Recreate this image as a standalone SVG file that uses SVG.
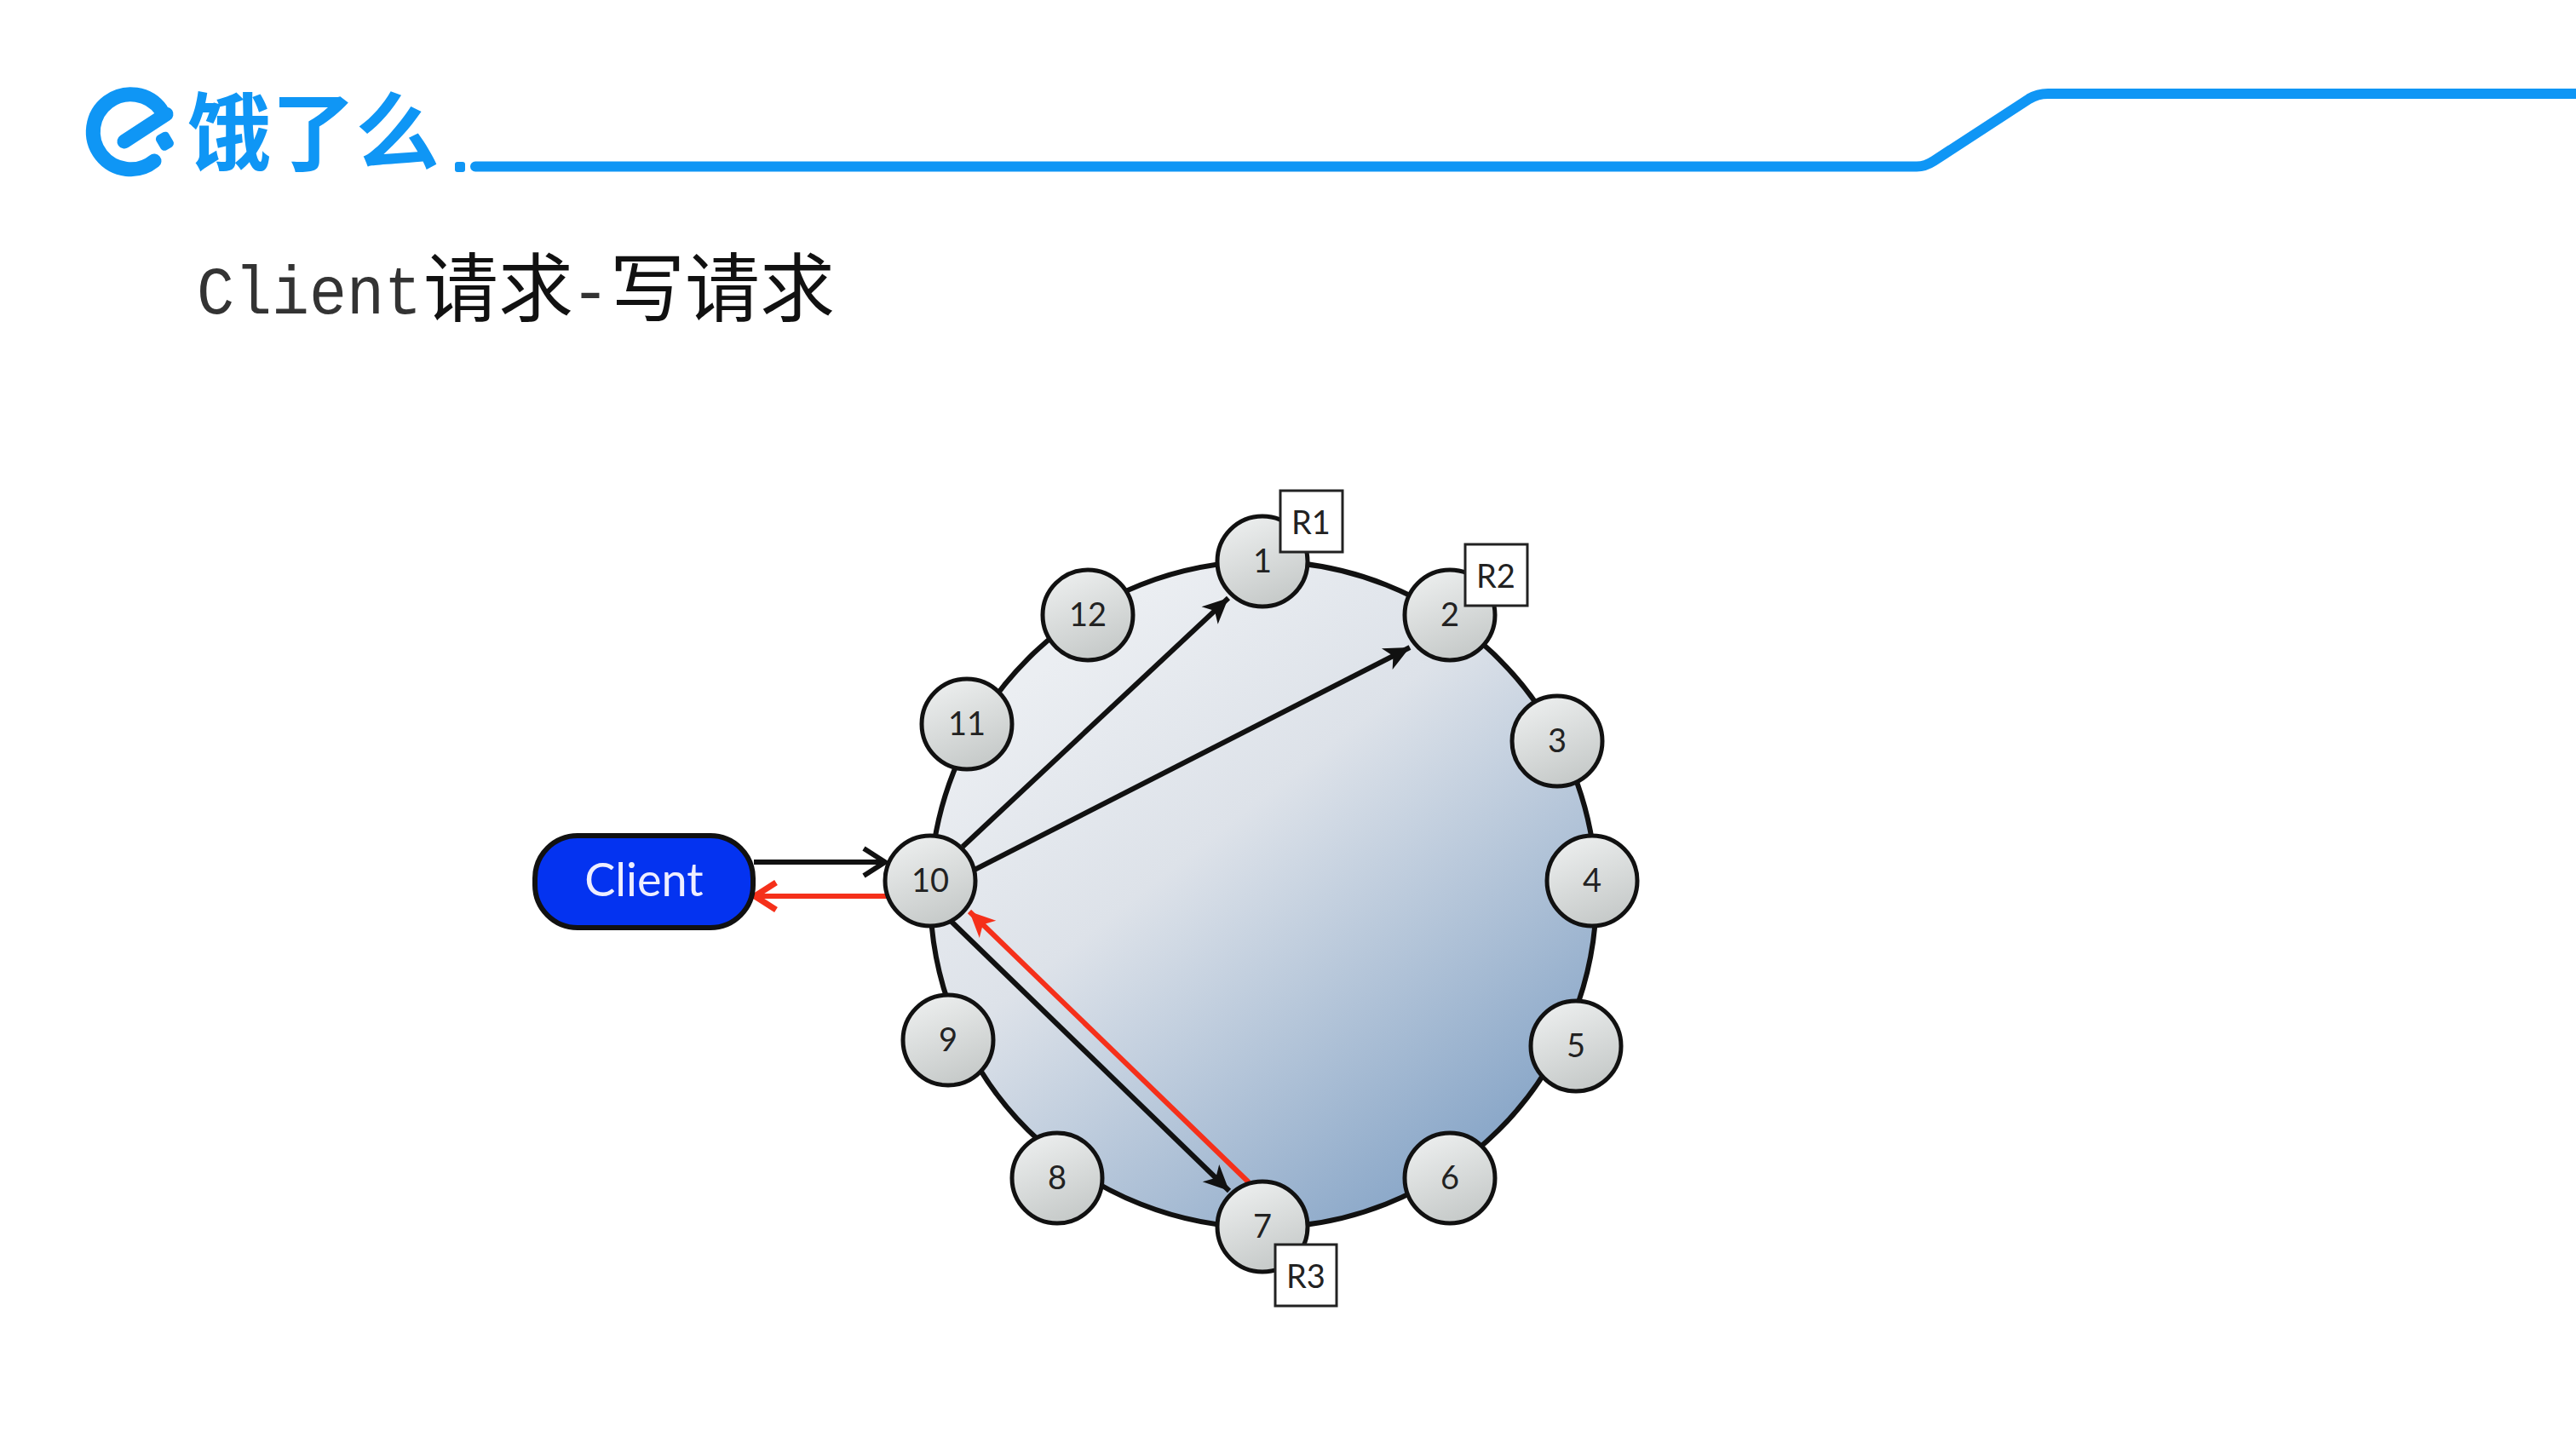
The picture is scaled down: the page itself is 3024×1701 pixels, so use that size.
<svg xmlns="http://www.w3.org/2000/svg" width="3024" height="1701" viewBox="0 0 3024 1701">
<style>
.n{fill:url(#ng);stroke:#111;stroke-width:5}
.nt{font-family:"Lato","Open Sans",sans-serif;font-size:38px;fill:#222;text-anchor:middle}
.tag{fill:#fff;stroke:#222;stroke-width:3}
.c{fill:none;stroke-width:6}
.k{stroke:#111}.r{stroke:#f5301a}
.ttl{font-family:"Liberation Mono","Noto Sans CJK SC",monospace;fill:#333}
.cjk{font-family:"Noto Sans CJK SC",sans-serif;fill:#111}
</style>
<defs>
<linearGradient id="ng" x1="0.3" y1="0" x2="0.7" y2="1"><stop offset="0" stop-color="#eceeee"/><stop offset="1" stop-color="#c4c8c7"/></linearGradient>
<linearGradient id="rg" x1="0.22" y1="0.12" x2="0.85" y2="0.92"><stop offset="0" stop-color="#ebeef2"/><stop offset="0.35" stop-color="#dde2e9"/><stop offset="1" stop-color="#84a3c6"/></linearGradient>
<marker id="af" markerUnits="userSpaceOnUse" markerWidth="36" markerHeight="36" refX="32" refY="18" orient="auto"><path d="M32 18 L2 4 L10 18 L2 32Z" fill="#111"/></marker>
<marker id="ar" markerUnits="userSpaceOnUse" markerWidth="36" markerHeight="36" refX="32" refY="18" orient="auto"><path d="M32 18 L2 4 L10 18 L2 32Z" fill="#f5301a"/></marker>
<marker id="ao" markerUnits="userSpaceOnUse" markerWidth="36" markerHeight="40" refX="32" refY="20" orient="auto"><path d="M6 4 L31 20 L6 36" fill="none" stroke="#111" stroke-width="6"/></marker>
<marker id="aor" markerUnits="userSpaceOnUse" markerWidth="36" markerHeight="40" refX="32" refY="20" orient="auto"><path d="M6 4 L31 20 L6 36" fill="none" stroke="#f5301a" stroke-width="7"/></marker>
</defs>
<rect width="3024" height="1701" fill="#fff"/>
<g id="logo">
<path d="M189 129 A44 44 0 1 0 181 189" fill="none" stroke="#0f96f5" stroke-width="17" stroke-linecap="round"/>
<path d="M146 166 L195 134" fill="none" stroke="#0f96f5" stroke-width="17" stroke-linecap="round"/>
<rect x="185" y="156" width="17" height="20" rx="5" fill="#0f96f5" transform="rotate(-30 193 166)"/>
<text x="220" y="192" font-family="Noto Sans CJK SC,sans-serif" font-weight="700" font-size="100" fill="#0f96f5" textLength="296" lengthAdjust="spacingAndGlyphs">饿了么</text>
<rect x="534" y="190" width="12" height="12" rx="3" fill="#0f96f5"/>
<path d="M558 195.500 H2250 Q2260 195.500 2270 189 L2382 116 Q2392 110 2404 110 H3024" fill="none" stroke="#0f96f5" stroke-width="12" stroke-linecap="round"/>
</g>
<g id="title">
<text x="231" y="368" class="ttl" font-size="80" textLength="264" lengthAdjust="spacingAndGlyphs">Client</text>
<text x="497" y="370" class="cjk" font-size="88">请求</text>
<text x="670" y="368" class="ttl" font-size="80" textLength="46" lengthAdjust="spacingAndGlyphs">-</text>
<text x="716" y="370" class="cjk" font-size="88">写请求</text>
</g>
<g id="ring"><circle cx="1483" cy="1050" r="391" fill="url(#rg)" stroke="#111" stroke-width="6"/></g>
<g id="connectors">
<path class="c k" d="M1130 994 L1442 702" marker-end="url(#af)"/>
<path class="c k" d="M1142 1022 L1655 760" marker-end="url(#af)"/>
<path class="c k" d="M1115 1080 L1443 1398" marker-end="url(#af)"/>
<path class="c r" d="M1466 1388 L1138 1070" marker-end="url(#ar)"/>
<path class="c k" d="M885 1012 L1040 1012" marker-end="url(#ao)"/>
<path class="c r" d="M1042 1052 L885 1052" marker-end="url(#aor)"/>
</g>
<g id="client"><rect x="628" y="981" width="256" height="108" rx="50" fill="#0433f0" stroke="#111" stroke-width="6"/><text x="756" y="1052" font-family="Lato,sans-serif" font-size="54" fill="#eef" text-anchor="middle">Client</text></g>
<g id="node-1"><circle class="n" cx="1482" cy="659" r="53"/><text class="nt" x="1482" y="672">1</text></g>
<g id="node-2"><circle class="n" cx="1702" cy="722" r="53"/><text class="nt" x="1702" y="735">2</text></g>
<g id="node-3"><circle class="n" cx="1828" cy="870" r="53"/><text class="nt" x="1828" y="883">3</text></g>
<g id="node-4"><circle class="n" cx="1869" cy="1034" r="53"/><text class="nt" x="1869" y="1047">4</text></g>
<g id="node-5"><circle class="n" cx="1850" cy="1228" r="53"/><text class="nt" x="1850" y="1241">5</text></g>
<g id="node-6"><circle class="n" cx="1702" cy="1383" r="53"/><text class="nt" x="1702" y="1396">6</text></g>
<g id="node-7"><circle class="n" cx="1482" cy="1440" r="53"/><text class="nt" x="1482" y="1453">7</text></g>
<g id="node-8"><circle class="n" cx="1241" cy="1383" r="53"/><text class="nt" x="1241" y="1396">8</text></g>
<g id="node-9"><circle class="n" cx="1113" cy="1221" r="53"/><text class="nt" x="1113" y="1234">9</text></g>
<g id="node-10"><circle class="n" cx="1092" cy="1034" r="53"/><text class="nt" x="1092" y="1047">10</text></g>
<g id="node-11"><circle class="n" cx="1135" cy="850" r="53"/><text class="nt" x="1135" y="863">11</text></g>
<g id="node-12"><circle class="n" cx="1277" cy="722" r="53"/><text class="nt" x="1277" y="735">12</text></g>
<g id="tag-r1"><rect class="tag" x="1503" y="576" width="73" height="72"/><text class="nt" x="1539" y="627">R1</text></g>
<g id="tag-r2"><rect class="tag" x="1720" y="639" width="73" height="72"/><text class="nt" x="1756" y="690">R2</text></g>
<g id="tag-r3"><rect class="tag" x="1497" y="1461" width="72" height="72"/><text class="nt" x="1533" y="1512">R3</text></g>
</svg>
